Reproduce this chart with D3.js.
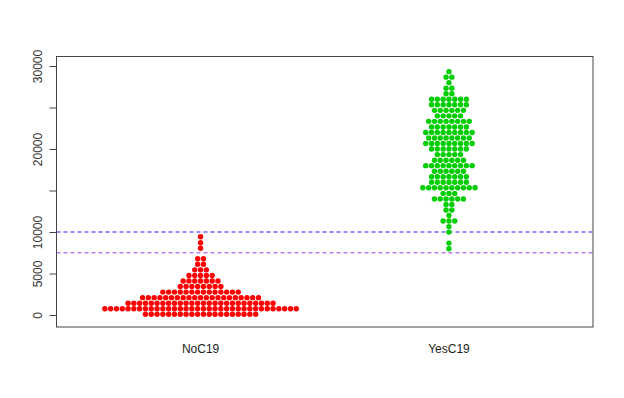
<!DOCTYPE html>
<html>
<head>
<meta charset="utf-8">
<script src="https://cdn.jsdelivr.net/npm/d3@7"></script>
<style>
  body { margin: 0; background: #fff; }
  text { font-family: "Liberation Sans", Arial, sans-serif; }
</style>
</head>
<body>
<svg id="chart" width="624" height="398"></svg>
<script>
// groups and their colours
const groups = ["NoC19", "YesC19"];
const groupColors = ["#ff0000", "#00cd00"];

// beeswarm rows: value level of each row and how many points sit in it
const noLevels = [85, 754, 1423, 2092, 2761, 3430, 4099, 4768, 5437, 6106, 6775, 8037, 8712, 9435];
const noCounts = [20, 34, 26, 21, 14, 8, 7, 5, 3, 2, 2, 1, 1, 1];

const yesLevels = [29318, 28655, 27992, 27329, 26655, 25992, 25329, 24654, 23992, 23329,
  22654, 21991, 21329, 20654, 19991, 19328, 18653, 17991, 17328, 16653,
  15990, 15328, 14653, 13990, 13327, 12653, 11990, 11327, 10652, 9990, 8664, 7989];
const yesCounts = [1, 2, 1, 2, 2, 7, 7, 6, 5, 8,
  7, 9, 8, 9, 7, 5, 6, 9, 6, 7,
  7, 10, 3, 6, 2, 2, 1, 3, 1, 1, 1, 1];

// reference lines
const refValues = [10000, 7500];
const refColors = ["#6f6fff", "#c07cf2"];

// y axis ticks
const yTicks = [0, 5000, 10000, 15000, 20000, 25000, 30000];
const yTickLabels = ["0", "5000", "10000", "", "20000", "", "30000"];

const boxLeft = 56.5, boxRight = 593, boxTop = 56.5, boxBottom = 327;
const dotGap = 5.8;

const svg = d3.select("#chart");

const x = d3.scaleLinear().domain([0.42, 2.58]).range([boxLeft, boxRight]);
const y = d3.scaleLinear().domain([0, 30000]).range([315, 66]);

// expand rows into points, centred on the group
function swarm(levels, counts, g) {
  const pts = [];
  levels.forEach((v, i) => {
    const n = counts[i];
    for (let k = 0; k < n; k++) {
      pts.push({ g: g, v: v, off: k - (n - 1) / 2 });
    }
  });
  return pts;
}

const points = swarm(noLevels, noCounts, 0).concat(swarm(yesLevels, yesCounts, 1));

// reference lines
svg.selectAll("line.ref")
  .data(refValues)
  .enter()
  .append("line")
  .attr("class", "ref")
  .attr("x1", boxLeft)
  .attr("x2", boxRight)
  .attr("y1", d => y(d))
  .attr("y2", d => y(d))
  .attr("stroke", (d, i) => refColors[i])
  .attr("stroke-width", 1.3)
  .attr("stroke-dasharray", "4,3");

// points
svg.selectAll("circle")
  .data(points)
  .enter()
  .append("circle")
  .attr("cx", d => x(d.g + 1) + d.off * dotGap)
  .attr("cy", d => y(d.v))
  .attr("r", 2.7)
  .attr("fill", d => groupColors[d.g]);

// box
svg.append("rect")
  .attr("x", boxLeft)
  .attr("y", boxTop)
  .attr("width", boxRight - boxLeft)
  .attr("height", boxBottom - boxTop)
  .attr("fill", "none")
  .attr("stroke", "#444")
  .attr("stroke-width", 1);

// y axis
const yAxis = d3.axisLeft(y)
  .tickValues(yTicks)
  .tickSize(7)
  .tickFormat((d, i) => yTickLabels[i]);

const gy = svg.append("g")
  .attr("transform", `translate(${boxLeft},0)`)
  .call(yAxis);

gy.select(".domain")
  .attr("d", `M0,${y(0)}V${y(30000)}`)
  .attr("stroke", "#444");
gy.selectAll(".tick line").attr("stroke", "#444");
gy.selectAll(".tick text")
  .attr("transform", "rotate(-90)")
  .attr("x", 0)
  .attr("y", -15)
  .attr("dy", 0)
  .attr("text-anchor", "middle")
  .attr("font-size", 12)
  .attr("fill", "#333");

// x labels
svg.selectAll("text.xlab")
  .data(groups)
  .enter()
  .append("text")
  .attr("class", "xlab")
  .attr("x", (d, i) => x(i + 1))
  .attr("y", 353)
  .attr("text-anchor", "middle")
  .attr("font-size", 12)
  .attr("fill", "#222")
  .text(d => d);
</script>
</body>
</html>
